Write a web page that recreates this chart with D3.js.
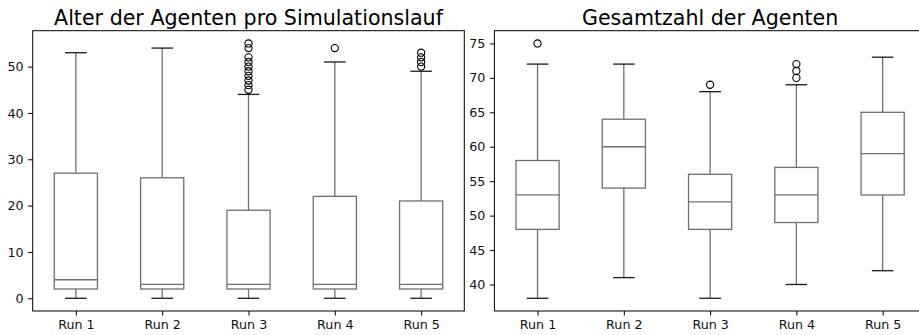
<!DOCTYPE html>
<html>
<head>
<meta charset="utf-8">
<script src="https://cdn.jsdelivr.net/npm/d3@7"></script>
<style>
html,body{margin:0;padding:0;background:#fff;overflow:hidden;}
svg{display:block;font-family:"DejaVu Sans",sans-serif;}
</style>
</head>
<body>
<svg id="chart" width="919" height="335"></svg>
<script>
const runs = ["Run 1", "Run 2", "Run 3", "Run 4", "Run 5"];

const ageTitle = "Alter der Agenten pro Simulationslauf";
const ageWhiskerLow = [0, 0, 0, 0, 0];
const ageQ1 = [2, 2, 2, 2, 2];
const ageMedian = [4, 3, 3, 3, 3];
const ageQ3 = [27, 26, 19, 22, 21];
const ageWhiskerHigh = [53, 54, 44, 51, 49];
const ageOutliers = [[], [], [45, 46, 47, 48, 49, 50, 51, 52, 54, 55], [54], [50, 51, 52, 53]];
const ageTicks = [0, 10, 20, 30, 40, 50];
const ageDomain = [-2.75, 57.75];

const totalTitle = "Gesamtzahl der Agenten";
const totalWhiskerLow = [38, 41, 38, 40, 42];
const totalQ1 = [48, 54, 48, 49, 53];
const totalMedian = [53, 60, 52, 53, 59];
const totalQ3 = [58, 64, 56, 57, 65];
const totalWhiskerHigh = [72, 72, 68, 69, 73];
const totalOutliers = [[75], [], [69], [70, 71, 72], []];
const totalTicks = [40, 45, 50, 55, 60, 65, 70, 75];
const totalDomain = [36.15, 76.85];

const svg = d3.select("#chart");
const boxColor = "#707070";
const capColor = "#1a1a1a";

function panel(cfg) {
  const {x0, x1, y0, y1, title, lo, q1, med, q3, hi, out, ticks, domain} = cfg;
  const g = svg.append("g");
  const x = d3.scalePoint().domain(runs).range([x0, x1]).padding(0.5);
  const y = d3.scaleLinear().domain(domain).range([y1, y0]);
  const step = x.step();
  const boxW = step * 0.5, capW = step * 0.25;

  const data = runs.map((r, i) => ({r, lo: lo[i], q1: q1[i], med: med[i], q3: q3[i], hi: hi[i], out: out[i]}));

  const b = g.selectAll("g.box").data(data).join("g").attr("class", "box");
  b.append("line").attr("x1", d => x(d.r)).attr("x2", d => x(d.r))
    .attr("y1", d => y(d.q3)).attr("y2", d => y(d.hi))
    .attr("stroke", boxColor).attr("stroke-width", 1.3);
  b.append("line").attr("x1", d => x(d.r)).attr("x2", d => x(d.r))
    .attr("y1", d => y(d.q1)).attr("y2", d => y(d.lo))
    .attr("stroke", boxColor).attr("stroke-width", 1.3);
  b.append("line").attr("x1", d => x(d.r) - capW / 2).attr("x2", d => x(d.r) + capW / 2)
    .attr("y1", d => y(d.hi)).attr("y2", d => y(d.hi))
    .attr("stroke", capColor).attr("stroke-width", 1.3);
  b.append("line").attr("x1", d => x(d.r) - capW / 2).attr("x2", d => x(d.r) + capW / 2)
    .attr("y1", d => y(d.lo)).attr("y2", d => y(d.lo))
    .attr("stroke", capColor).attr("stroke-width", 1.3);
  b.append("rect").attr("x", d => x(d.r) - boxW / 2).attr("width", boxW)
    .attr("y", d => y(d.q3)).attr("height", d => y(d.q1) - y(d.q3))
    .attr("fill", "none").attr("stroke", boxColor).attr("stroke-width", 1.3);
  b.append("line").attr("x1", d => x(d.r) - boxW / 2).attr("x2", d => x(d.r) + boxW / 2)
    .attr("y1", d => y(d.med)).attr("y2", d => y(d.med))
    .attr("stroke", boxColor).attr("stroke-width", 1.3);
  b.selectAll("circle").data(d => d.out.map(v => ({r: d.r, v}))).join("circle")
    .attr("cx", d => x(d.r)).attr("cy", d => y(d.v)).attr("r", 3.6)
    .attr("fill", "none").attr("stroke", "#000").attr("stroke-width", 1.1);

  const ya = g.append("g").attr("transform", `translate(${x0},0)`)
    .call(d3.axisLeft(y).tickValues(ticks).tickSize(4.5).tickPadding(4.5).tickFormat(d3.format("d")));
  const xa = g.append("g").attr("transform", `translate(0,${y1})`)
    .call(d3.axisBottom(x).tickSize(4.5).tickPadding(4));
  [ya, xa].forEach(a => {
    a.select(".domain").remove();
    a.selectAll("line").attr("stroke", "#000").attr("stroke-width", 1);
    a.selectAll("text").attr("fill", "#111").style("font-size", "12.7px").style("font-family", "'DejaVu Sans', sans-serif");
  });
  g.append("rect").attr("x", x0).attr("y", y0).attr("width", x1 - x0).attr("height", y1 - y0)
    .attr("fill", "none").attr("stroke", "#000").attr("stroke-width", 1);
  g.append("text").attr("x", (x0 + x1) / 2).attr("y", y0 - 6)
    .attr("text-anchor", "middle").style("font-size", "20.6px").attr("fill", "#000")
    .text(title);
}

panel({x0: 32.7, x1: 464.3, y0: 30.7, y1: 311, title: ageTitle,
  lo: ageWhiskerLow, q1: ageQ1, med: ageMedian, q3: ageQ3, hi: ageWhiskerHigh,
  out: ageOutliers, ticks: ageTicks, domain: ageDomain});
panel({x0: 494.4, x1: 925.8, y0: 30.7, y1: 311, title: totalTitle,
  lo: totalWhiskerLow, q1: totalQ1, med: totalMedian, q3: totalQ3, hi: totalWhiskerHigh,
  out: totalOutliers, ticks: totalTicks, domain: totalDomain});
</script>
</body>
</html>
